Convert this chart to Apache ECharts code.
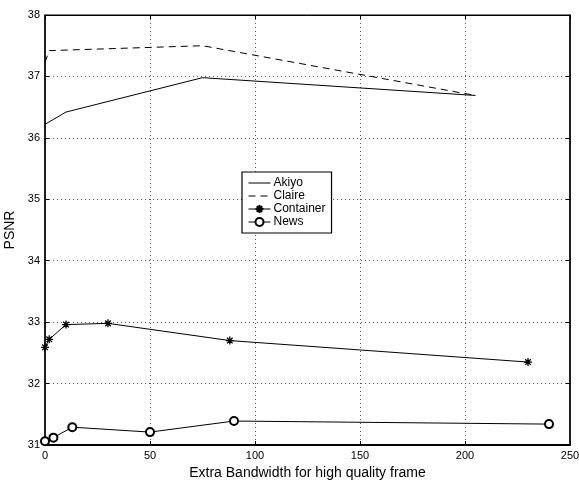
<!DOCTYPE html>
<html><head><meta charset="utf-8">
<script src="https://cdn.jsdelivr.net/npm/echarts@6/dist/echarts.min.js"></script>
<style>html,body{margin:0;padding:0;background:#fff}#c{width:579px;height:480px}</style>
</head><body><div id="c"></div>
<script>
const seriesNames = ["Akiyo", "Claire", "Container", "News"];
const akiyo = [[0, 36.22], [10, 36.42], [75, 36.98], [205, 36.69]];
const claire = [[0, 37.23], [2, 37.42], [75, 37.5], [205, 36.69]];
const container = [[0, 32.59], [2, 32.72], [10, 32.96], [30, 32.98], [88, 32.7], [230, 32.35]];
const news = [[0, 31.06], [4, 31.12], [13, 31.29], [50, 31.21], [90, 31.39], [240, 31.34]];
const xTicks = [0, 50, 100, 150, 200, 250];
const yTicks = [31, 32, 33, 34, 35, 36, 37, 38];

const FONT = "Liberation Sans";
const star = 'path://M0,5 L10,5 M5,0 L5,10 M1.5,1.5 L8.5,8.5 M1.5,8.5 L8.5,1.5';
const chart = echarts.init(document.getElementById('c'));
const grid = {left: 45, right: 9, top: 15, bottom: 35, show: true, borderColor: '#000', borderWidth: 1, containLabel: false, outerBoundsMode: 'none'};
const baseX = {type: 'value', min: xTicks[0], max: xTicks[xTicks.length-1], interval: 50};
const baseY = {type: 'value', min: yTicks[0], max: yTicks[yTicks.length-1], interval: 1};
chart.setOption({
  animation: false,
  textStyle: {fontFamily: FONT},
  grid: grid,
  legend: {
    orient: 'vertical', left: 242, top: 172,
    backgroundColor: '#fff', borderColor: '#000', borderWidth: 1.2,
    padding: [5, 6, 5, 6], itemGap: 1, itemWidth: 22, itemHeight: 10,
    lineStyle: {width: 1},
    textStyle: {fontFamily: FONT, fontSize: 12, color: '#000', padding: [0,0,0,-2]},
    data: [
      {name: seriesNames[0], itemStyle: {opacity: 0}},
      {name: seriesNames[1], itemStyle: {opacity: 0}},
      {name: seriesNames[2]},
      {name: seriesNames[3]}
    ]
  },
  xAxis: [
    Object.assign({}, baseX, {
      position: 'bottom',
      name: 'Extra Bandwidth for high quality frame', nameLocation: 'middle', nameGap: 20,
      nameTextStyle: {fontFamily: FONT, fontSize: 14, color: '#000'},
      axisLine: {onZero: false, lineStyle: {color: '#000', width: 2}},
      axisTick: {inside: true, length: 4, lineStyle: {color: '#000'}},
      axisLabel: {fontFamily: FONT, fontSize: 11, color: '#000', margin: 5},
      splitLine: {show: true, lineStyle: {color: '#555', type: [1, 3], width: 1}}
    }),
    Object.assign({}, baseX, {
      position: 'top',
      axisLine: {onZero: false, lineStyle: {color: '#000', width: 1}},
      axisTick: {inside: true, length: 4, lineStyle: {color: '#000'}},
      axisLabel: {show: false}, splitLine: {show: false}
    })
  ],
  yAxis: [
    Object.assign({}, baseY, {
      position: 'left',
      name: 'PSNR', nameLocation: 'middle', nameGap: 28, nameRotate: 90,
      nameTextStyle: {fontFamily: FONT, fontSize: 14, color: '#000'},
      axisLine: {onZero: false, lineStyle: {color: '#000', width: 1.5}},
      axisTick: {inside: true, length: 4, lineStyle: {color: '#000'}},
      axisLabel: {fontFamily: FONT, fontSize: 11, color: '#000', margin: 5},
      splitLine: {show: true, lineStyle: {color: '#555', type: [1, 3], width: 1}}
    }),
    Object.assign({}, baseY, {
      position: 'right',
      axisLine: {onZero: false, lineStyle: {color: '#000', width: 1.5}},
      axisTick: {inside: true, length: 4, lineStyle: {color: '#000'}},
      axisLabel: {show: false}, splitLine: {show: false}
    })
  ],
  series: [
    {name: seriesNames[0], type: 'line', data: akiyo, showSymbol: false, symbol: 'none',
     lineStyle: {color: '#000', width: 1}, itemStyle: {color: '#000'}},
    {name: seriesNames[1], type: 'line', data: claire, showSymbol: false, symbol: 'none',
     lineStyle: {color: '#000', width: 1, type: [7, 5]}, itemStyle: {color: '#000'}},
    {name: seriesNames[2], type: 'line', data: container, symbol: star, symbolSize: 8,
     lineStyle: {color: '#000', width: 1}, itemStyle: {color: '#000', borderColor: '#000', borderWidth: 1.3}},
    {name: seriesNames[3], type: 'line', data: news, symbol: 'emptyCircle', symbolSize: 8,
     lineStyle: {color: '#000', width: 1}, itemStyle: {color: '#000', borderColor: '#000', borderWidth: 1}}
  ]
});
</script></body></html>
